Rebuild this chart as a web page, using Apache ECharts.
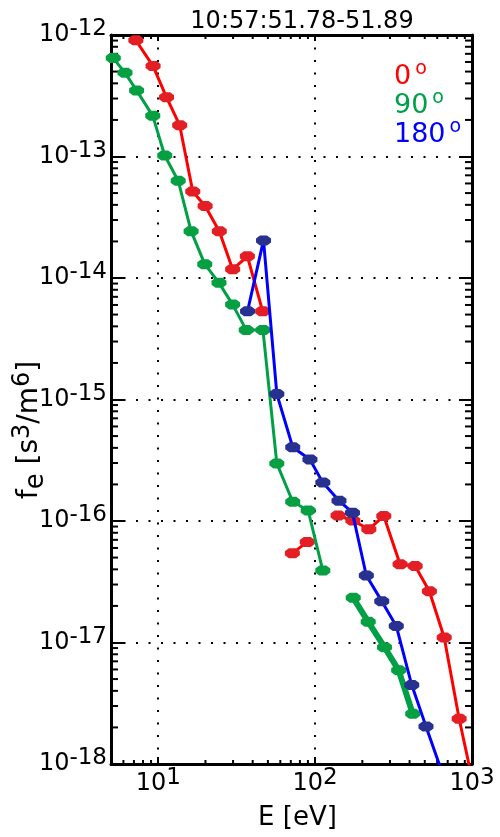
<!DOCTYPE html>
<html>
<head>
<meta charset="utf-8">
<script src="https://cdn.jsdelivr.net/npm/echarts@6/dist/echarts.min.js"></script>
<style>html,body{margin:0;padding:0;background:#fff}#c{width:500px;height:837px}</style>
</head>
<body>
<div id="c"></div>
<script>
// ---------- data ----------
const chartTitle = '10:57:51.78-51.89';
const xAxisName = 'E [eV]';

// 0 deg (red); null = gap in the curve
const energy0 = [7.2, 9.27, 11.3, 13.7, 16.6, 19.9, 24.5, 29.8, 37.0, 46.3, null, 71.6, 89.1, null, 140, 174, 220, 274, 348, 434, 535, 665, 828, 1100];
const f0 = [9.05e-13, 5.55e-13, 3.07e-13, 1.81e-13, 5.15e-14, 3.91e-14, 2.43e-14, 1.18e-14, 1.51e-14, 5.33e-15, null, 5.42e-17, 6.73e-17, null, 1.11e-16, 1.01e-16, 8.55e-17, 1.10e-16, 4.41e-17, 4.27e-17, 2.64e-17, 1.10e-17, 2.36e-18, 4.3e-19];

// 90 deg (green), two pieces
const energy90 = [5.17, 6.14, 7.28, 9.23, 11.0, 13.4, 16.2, 19.8, 24.4, 29.8, 36.4, 46.5, 57.0, 72.0, 90.3, 112];
const f90 = [6.46e-13, 4.88e-13, 3.50e-13, 2.16e-13, 1.02e-13, 6.32e-14, 2.43e-14, 1.30e-14, 9.12e-15, 6.04e-15, 3.74e-15, 3.74e-15, 2.98e-16, 1.44e-16, 1.22e-16, 3.91e-17];
const energy90b = [175, 218, 277, 341, 419];
const f90b = [2.33e-17, 1.48e-17, 9.14e-18, 5.90e-18, 2.59e-18];

// 180 deg (blue)
const energy180 = [37.1, 46.9, 57.0, 72.0, 92.7, 112, 142, 173, 212, 266, 329, 413, 509, 700];
const f180 = [5.33e-15, 2.04e-14, 1.11e-15, 4.05e-16, 3.21e-16, 2.07e-16, 1.47e-16, 1.17e-16, 3.56e-17, 2.19e-17, 1.37e-17, 4.46e-18, 2.04e-18, 6.3e-19];

// legend labels
const legendLabels = ['0', '90', '180'];

// axis ranges and minor ticks
const xMin = 5, xMax = 1000;
const yMin = 1e-18, yMax = 1e-12;
const minorMantissas = [2, 3, 4, 5, 6, 7, 8, 9];
const xMinorDecades = [0, 1, 2];
const yMinorDecades = [-18, -17, -16, -15, -14, -13];

// ---------- build ----------
const FONT = 'DejaVu Sans';
function pairs(xs, ys) {
  return xs.map((x, i) => (x == null || ys[i] == null) ? ['-', '-'] : [x, ys[i]]);
}
const xMinorVals = [];
xMinorDecades.forEach(d => minorMantissas.forEach(m => { const v = m * Math.pow(10, d); if (v > xMin && v < xMax) xMinorVals.push([v, yMin]); }));
const yMinorVals = [];
yMinorDecades.forEach(d => minorMantissas.forEach(m => { yMinorVals.push([xMin, m * Math.pow(10, d)]); }));

function powLabel(v) {
  const l = Math.log10(v);
  const e = Math.round(l);
  if (Math.abs(l - e) > 1e-6) return '';
  return '{b|10}{e|' + (e < 0 ? '-' : '') + Math.abs(e) + '}';
}
const labelRich = {
  b: { fontSize: 24, lineHeight: 34, fontFamily: FONT, color: '#000' },
  e: { fontSize: 23, lineHeight: 20, verticalAlign: 'top', fontFamily: FONT, color: '#000' }
};
const markerPath = 'path://M4,0 L11,0 L15,3 L15,7 L11,10 L4,10 L0,7 L0,3 Z';
const dotted = { color: '#000', width: 2, type: [2, 10.5] };
const legendColors = ['#ff0000', '#00a04a', '#0000ff'];
const legendY = [77, 106, 135];

const chart = echarts.init(document.getElementById('c'), null, { renderer: 'canvas' });
chart.setOption({
  animation: false,
  backgroundColor: '#fff',
  title: {
    text: chartTitle, left: 302, top: 8, textAlign: 'center', padding: 0,
    textStyle: { fontSize: 24, fontWeight: 'normal', fontFamily: FONT, color: '#000', lineHeight: 28 }
  },
  grid: { left: 111, right: 28, top: 35, bottom: 65, containLabel: false },
  xAxis: [
    {
      type: 'log', logBase: 10, min: xMin, max: xMax, splitNumber: 3, position: 'bottom',
      name: xAxisName, nameLocation: 'middle', nameGap: 40,
      nameTextStyle: { fontSize: 26, fontFamily: FONT, color: '#000', lineHeight: 28, padding: [0, 0, 0, 12] },
      axisLine: { show: true, onZero: false, lineStyle: { color: '#000', width: 3 } },
      axisTick: { show: true, inside: true, length: 7, lineStyle: { color: '#000', width: 2 } },
      axisLabel: { formatter: powLabel, rich: labelRich, margin: 3, showMinLabel: true, showMaxLabel: true },
      splitLine: { show: true, lineStyle: dotted }
    },
    {
      type: 'log', logBase: 10, min: xMin, max: xMax, splitNumber: 3, position: 'top',
      axisLine: { show: true, onZero: false, lineStyle: { color: '#000', width: 3 } },
      axisTick: { show: true, inside: true, length: 6, lineStyle: { color: '#000', width: 2 } },
      axisLabel: { show: false }, splitLine: { show: false }
    }
  ],
  yAxis: [
    {
      type: 'log', logBase: 10, min: yMin, max: yMax, splitNumber: 6, position: 'left',
      axisLine: { show: true, onZero: false, lineStyle: { color: '#000', width: 3 } },
      axisTick: { show: true, inside: true, length: 13, lineStyle: { color: '#000', width: 2 } },
      axisLabel: { formatter: powLabel, rich: labelRich, margin: 4, showMinLabel: true, showMaxLabel: true },
      splitLine: { show: true, lineStyle: dotted }
    },
    {
      type: 'log', logBase: 10, min: yMin, max: yMax, splitNumber: 6, position: 'right',
      axisLine: { show: true, onZero: false, lineStyle: { color: '#000', width: 3 } },
      axisTick: { show: true, inside: true, length: 13, lineStyle: { color: '#000', width: 2 } },
      axisLabel: { show: false }, splitLine: { show: false }
    }
  ],
  graphic: [
    {
      type: 'text', x: 30, y: 430, rotation: Math.PI / 2,
      style: {
        text: '{n|f}{sub|e}{n| [s}{sup|3}{n|/m}{sup|6}{n|]}',
        align: 'center', verticalAlign: 'middle', fill: '#000',
        rich: {
          n: { fontSize: 28, lineHeight: 38, fontFamily: FONT, fill: '#000' },
          sub: { fontSize: 26, lineHeight: 24, verticalAlign: 'bottom', fontFamily: FONT, fill: '#000' },
          sup: { fontSize: 24, lineHeight: 22, verticalAlign: 'top', fontFamily: FONT, fill: '#000' }
        }
      }
    },
    ...legendLabels.map((lab, i) => ({
      type: 'text', x: 394, y: legendY[i],
      style: {
        text: '{n|' + lab + '}{s|o}', align: 'left', verticalAlign: 'middle', fill: legendColors[i],
        rich: {
          n: { fontSize: 27, lineHeight: 34, fontFamily: FONT, fill: legendColors[i] },
          s: { fontSize: 19, lineHeight: 14, verticalAlign: 'top', fontFamily: FONT, fill: legendColors[i], padding: [0, 0, 0, 4] }
        }
      }
    }))
  ],
  series: [
    {
      type: 'custom', name: 'xminor', xAxisIndex: 0, yAxisIndex: 0, z: 1, silent: true, clip: false,
      data: xMinorVals,
      renderItem: function (params, api) {
        const p = api.coord([api.value(0), api.value(1)]);
        const cs = params.coordSys;
        const st = { stroke: '#000', lineWidth: 2 };
        return { type: 'group', children: [
          { type: 'line', shape: { x1: p[0], y1: cs.y + cs.height, x2: p[0], y2: cs.y + cs.height - 4 }, style: st },
          { type: 'line', shape: { x1: p[0], y1: cs.y, x2: p[0], y2: cs.y + 4 }, style: st }
        ] };
      }
    },
    {
      type: 'custom', name: 'yminor', xAxisIndex: 0, yAxisIndex: 0, z: 1, silent: true, clip: false,
      data: yMinorVals,
      renderItem: function (params, api) {
        const p = api.coord([api.value(0), api.value(1)]);
        const cs = params.coordSys;
        const st = { stroke: '#000', lineWidth: 2 };
        return { type: 'group', children: [
          { type: 'line', shape: { x1: cs.x, y1: p[1], x2: cs.x + 7, y2: p[1] }, style: st },
          { type: 'line', shape: { x1: cs.x + cs.width, y1: p[1], x2: cs.x + cs.width - 7, y2: p[1] }, style: st }
        ] };
      }
    },
    {
      type: 'line', name: '0', data: pairs(energy0, f0), connectNulls: false,
      symbol: markerPath, symbolSize: [15, 10], showAllSymbol: true,
      lineStyle: { color: '#ff0000', width: 3 }, itemStyle: { color: '#e31e24' }, z: 3
    },
    {
      type: 'line', name: '90', data: pairs(energy90, f90),
      symbol: markerPath, symbolSize: [15, 10], showAllSymbol: true,
      lineStyle: { color: '#00a046', width: 3 }, itemStyle: { color: '#06a043' }, z: 4
    },
    {
      type: 'line', name: '90b', data: pairs(energy90b, f90b),
      symbol: markerPath, symbolSize: [15, 10], showAllSymbol: true,
      lineStyle: { color: '#00a046', width: 6 }, itemStyle: { color: '#06a043' }, z: 4
    },
    {
      type: 'line', name: '180', data: pairs(energy180, f180),
      symbol: markerPath, symbolSize: [15, 10], showAllSymbol: true,
      lineStyle: { color: '#0000ff', width: 3 }, itemStyle: { color: '#27318f' }, z: 5
    }
  ]
});
</script>
</body>
</html>
